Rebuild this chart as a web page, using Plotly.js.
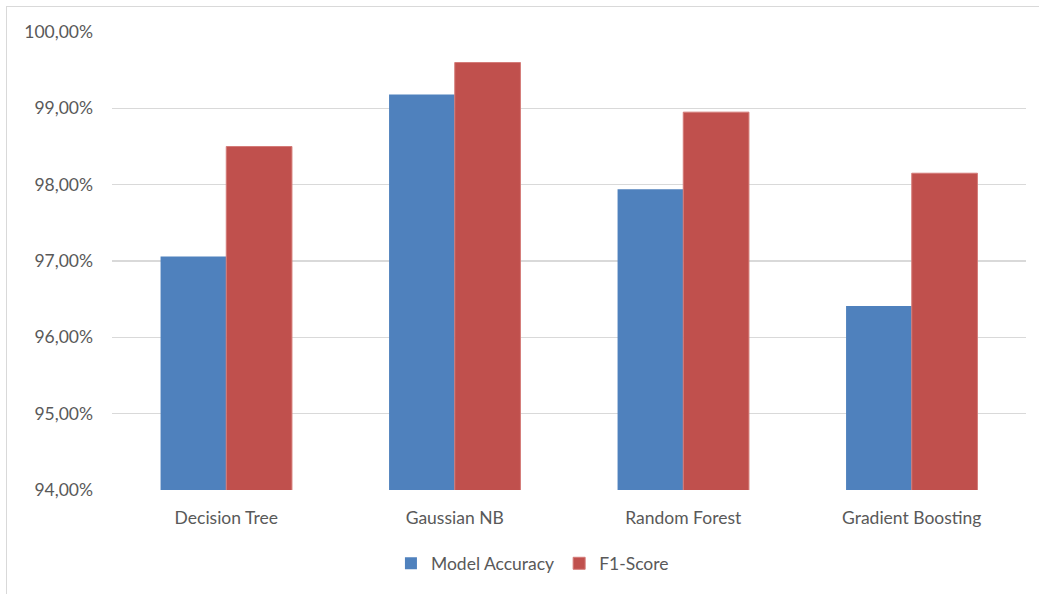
<!DOCTYPE html>
<html>
<head>
<meta charset="utf-8">
<script src="https://cdn.plot.ly/plotly-3.0.1.min.js"></script>
<style>
  html, body { margin: 0; padding: 0; background: #ffffff; }
  #wrap { position: relative; width: 1039px; height: 594px; }
  #chart { width: 1039px; height: 594px; }
  #frame {
    position: absolute; left: 6px; top: 6px; right: -2px; bottom: -2px;
    border-top: 1.5px solid #d9d9d9; border-left: 1.5px solid #d9d9d9;
    pointer-events: none;
  }
</style>
</head>
<body>
<div id="wrap">
  <div id="chart"></div>
  <div id="frame"></div>
</div>
<script>
// Classifier comparison: accuracy vs. F1-score (in percent)
const models = ["Decision Tree", "Gaussian NB", "Random Forest", "Gradient Boosting"];
const modelAccuracy = [97.06, 99.18, 97.94, 96.41];
const f1Score = [98.50, 99.60, 98.95, 98.15];
const yTicks = [94, 95, 96, 97, 98, 99, 100];
const yTickText = ["94,00%", "95,00%", "96,00%", "97,00%", "98,00%", "99,00%", "100,00%"];

const labelFont = { family: "Lato, Open Sans, sans-serif", size: 17.5, color: "#595959" };

const traces = [
  {
    type: "bar",
    name: "Model Accuracy",
    x: models,
    y: modelAccuracy,
    marker: { color: "#4f81bd", line: { color: "#4f81bd", width: 0 } },
    hoverinfo: "x+y+name"
  },
  {
    type: "bar",
    name: "F1-Score",
    x: models,
    y: f1Score,
    marker: { color: "#c0504d", line: { color: "#d47b78", width: 1 } },
    hoverinfo: "x+y+name"
  }
];

const layout = {
  width: 1039,
  height: 594,
  margin: { l: 112, r: 13, t: 32, b: 104, autoexpand: false },
  paper_bgcolor: "#ffffff",
  plot_bgcolor: "#ffffff",
  barmode: "group",
  bargap: 0.425,
  bargroupgap: 0,
  showlegend: true,
  legend: {
    orientation: "h",
    x: 0.46, xanchor: "center",
    y: -0.121, yanchor: "top",
    font: labelFont,
    itemwidth: 30,
    traceorder: "normal"
  },
  xaxis: {
    type: "category",
    showgrid: false,
    zeroline: false,
    showline: false,
    ticks: "",
    tickfont: labelFont,
    ticklabelstandoff: 15,
    automargin: false
  },
  yaxis: {
    range: [94, 100],
    tickmode: "array",
    tickvals: yTicks,
    ticktext: yTickText,
    showgrid: true,
    gridcolor: "#d9d9d9",
    gridwidth: 1.2,
    zeroline: false,
    showline: false,
    ticks: "",
    tickfont: labelFont,
    ticklabelstandoff: 18,
    automargin: false
  }
};

Plotly.newPlot("chart", traces, layout, { displayModeBar: false, staticPlot: true });
</script>
</body>
</html>
